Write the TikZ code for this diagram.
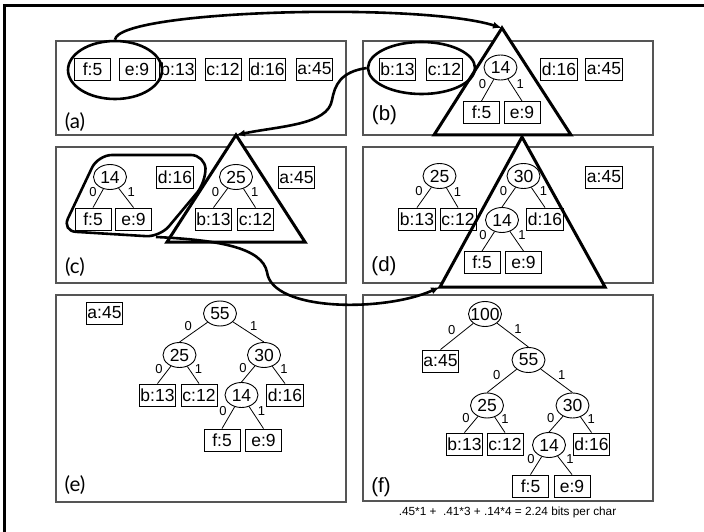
\documentclass[tikz,border=0pt]{standalone}
\usepackage{fontspec}
\setmainfont{Liberation Sans}
\newfontfamily\gillfont{Lato}
\usepackage{xcolor}
\definecolor{PanelCol}{RGB}{85,85,85}
\usepackage{tikz}
\usetikzlibrary{shapes}
\usetikzlibrary{arrows.meta}
\tikzstyle{Leaf}=[draw,line width=.9pt,minimum width=36,minimum height=22,
inner xsep=1.2,inner ysep=0,font=\fontsize{17.5}{19}\selectfont]
\tikzstyle{Sum}=[draw,ellipse,line width=.9pt,minimum width=33,minimum height=25,
inner xsep=-6,inner ysep=0,font=\fontsize{17.5}{19}\selectfont]
\tikzstyle{Edge}=[draw,line width=.8pt]
\tikzstyle{Bit}=[font=\fontsize{13}{14}\selectfont,inner sep=1.2pt,auto]
\tikzstyle{Panel}=[draw=PanelCol,line width=1.2pt]
\tikzstyle{Big}=[draw,fill=white,line width=3pt,line join=miter]
\tikzstyle{Group}=[draw,line width=2.6pt]
\tikzstyle{Jump}=[draw,line width=2.6pt,-{Latex[length=9pt,width=7pt]}]
\tikzstyle{Tag}=[font=\fontsize{20.5}{22}\selectfont,inner sep=0]
\tikzstyle{TagG}=[font=\gillfont\fontsize{20.5}{22}\selectfont,inner sep=0]

\begin{document}
\begin{tikzpicture}[x=1pt,y=-1pt]
        \useasboundingbox (0,0) rectangle (704,532);
        \draw[line width=3pt] (4,540) -- (4,6) -- (710,6);
        \draw[Panel] (56,41) rectangle (346,135);
        \draw[Panel] (363,41) rectangle (653,135);
        \draw[Panel] (56,147) rectangle (346,283);
        \draw[Panel] (363,147) rectangle (653,283);
        \draw[Panel] (56,295) rectangle (346,502);
        \draw[Panel] (363,295) rectangle (653,501);
        \coordinate (topB) at (502,28);
        \coordinate (leftB) at (434,135);
        \coordinate (rightB) at (571,135);
        \coordinate (topC) at (236,135);
        \coordinate (leftC) at (167,242);
        \coordinate (rightC) at (305,242);
        \coordinate (topD) at (522,137);
        \coordinate (leftD) at (440,287);
        \coordinate (rightD) at (605,287);
        \draw[Big] (topD) -- (leftD) -- (rightD) -- cycle;
        \draw[Big] (topB) -- (leftB) -- (rightB) -- cycle;
        \draw[Big] (topC) -- (leftC) -- (rightC) -- cycle;
        % (a)
        \node[Leaf](af)at(92.5,69){f:5};
        \node[Leaf](ae)at(137,69){e:9};
        \node[Leaf](ab)at(177.5,69){b:13};
        \node[Leaf](ac)at(223,69){c:12};
        \node[Leaf](ad)at(267.5,69){d:16};
        \node[Leaf](aa)at(314.5,69){a:45};
        \node[TagG](la)at(75,122){(a)};
        \node[Group,ellipse,minimum width=94,minimum height=58](pairA)at(115,70){};
        % (b)
        \node[Leaf](bb)at(397.5,69){b:13};
        \node[Leaf](bc)at(444.5,69){c:12};
        \node[Sum](b14)at(500.5,67.5){14};
        \node[Leaf](bf)at(481.5,112.5){f:5};
        \node[Leaf](be)at(522,112.5){e:9};
        \node[Leaf](bd)at(559,69){d:16};
        \node[Leaf](ba)at(604,69){a:45};
        \draw[Edge](b14)--node[Bit,swap]{0}(bf.north);
        \draw[Edge](b14)--node[Bit]{1}(be.north);
        \node[Tag](lb)at(384.5,115){(b)};
        \node[Group,ellipse,minimum width=107,minimum height=52](pairB)at(421.5,68){};
        % (c)
        \node[Sum](c14)at(110,177){14};
        \node[Leaf](cf)at(93,219){f:5};
        \node[Leaf](ce)at(133.5,219){e:9};
        \node[Leaf](cd)at(175,177){d:16};
        \node[Sum](c25)at(236,177){25};
        \node[Leaf](cb)at(213.5,219){b:13};
        \node[Leaf](cc)at(255.5,219){c:12};
        \node[Leaf](ca)at(296.5,177.5){a:45};
        \draw[Edge](c14)--node[Bit,swap]{0}(cf.north);
        \draw[Edge](c14)--node[Bit]{1}(ce.north);
        \draw[Edge](c25)--node[Bit,swap]{0}(cb.north);
        \draw[Edge](c25)--node[Bit]{1}(cc.north);
        \node[TagG](lc)at(75,267){(c)};
        \draw[Group,rounded corners=14](98,155)--(205,155)--(206,182)--(160,237)--(62,231)--cycle;
        \coordinate (foot) at (156,237);
        % (d)
        \node[Sum](d25)at(439.5,176){25};
        \node[Leaf](db)at(417,219){b:13};
        \node[Leaf](dc)at(458,219){c:12};
        \node[Sum](d30)at(523.5,176){30};
        \node[Sum](d14)at(502,220){14};
        \node[Leaf](dd)at(545,219){d:16};
        \node[Leaf](df)at(482,262.5){f:5};
        \node[Leaf](de)at(523.5,262.5){e:9};
        \node[Leaf](da)at(604,177){a:45};
        \draw[Edge](d25)--node[Bit,swap]{0}(db.north);
        \draw[Edge](d25)--node[Bit]{1}(dc.north);
        \draw[Edge](d30)--node[Bit,swap]{0}(d14.north);
        \draw[Edge](d30)--node[Bit]{1}(dd.north);
        \draw[Edge](d14)--node[Bit,swap]{0}(df.north);
        \draw[Edge](d14)--node[Bit]{1}(de.north);
        \node[Tag](ld)at(384,266){(d)};
        % (e)
        \node[Leaf](ea)at(104.5,313){a:45};
        \node[Sum](e55)at(220,313.5){55};
        \node[Sum](e25)at(179.5,355){25};
        \node[Sum](e30)at(264,355){30};
        \node[Leaf](eb)at(157.5,395){b:13};
        \node[Leaf](ec)at(199,395){c:12};
        \node[Sum](e14)at(241.5,395){14};
        \node[Leaf](ed)at(285,395){d:16};
        \node[Leaf](ef)at(222,440){f:5};
        \node[Leaf](ee)at(263.5,440){e:9};
        \draw[Edge](e55)--node[Bit,swap]{0}(e25.north);
        \draw[Edge](e55)--node[Bit]{1}(e30.north);
        \draw[Edge](e25)--node[Bit,swap]{0}(eb.north);
        \draw[Edge](e25)--node[Bit]{1}(ec.north);
        \draw[Edge](e30)--node[Bit,swap]{0}(e14.north);
        \draw[Edge](e30)--node[Bit]{1}(ed.north);
        \draw[Edge](e14)--node[Bit,swap]{0}(ef.north);
        \draw[Edge](e14)--node[Bit]{1}(ee.north);
        \node[TagG](le)at(75,485){(e)};
        % (f)
        \node[Sum](f100)at(485,314){100};
        \node[Leaf](fa)at(440.5,361){a:45};
        \node[Sum](f55)at(528.5,360){55};
        \node[Sum](f25)at(487,405.5){25};
        \node[Sum](f30)at(572.5,405.5){30};
        \node[Leaf](fb)at(464.5,444){b:13};
        \node[Leaf](fc)at(505,444){c:12};
        \node[Sum](f14)at(549,445){14};
        \node[Leaf](fd)at(591.5,444){d:16};
        \node[Leaf](ff)at(530.5,486){f:5};
        \node[Leaf](fe)at(572,486){e:9};
        \draw[Edge](f100)--node[Bit,swap]{0}(fa.north);
        \draw[Edge](f100)--node[Bit]{1}(f55.north);
        \draw[Edge](f55)--node[Bit,swap]{0}(f25.north);
        \draw[Edge](f55)--node[Bit]{1}(f30.north);
        \draw[Edge](f25)--node[Bit,swap]{0}(fb.north);
        \draw[Edge](f25)--node[Bit]{1}(fc.north);
        \draw[Edge](f30)--node[Bit,swap]{0}(f14.north);
        \draw[Edge](f30)--node[Bit]{1}(fd.north);
        \draw[Edge](f14)--node[Bit,swap]{0}(ff.north);
        \draw[Edge](f14)--node[Bit]{1}(fe.north);
        \node[Tag](lf)at(381,487){(f)};
        \node[font=\fontsize{11.8}{13}\selectfont](note)at(507.5,512){.45*1 +\ \ .41*3 + .14*4 = 2.24 bits per char};
        % merges
        \draw[Jump](pairA.north)..controls(118,10)and(420,2)..(topB);
        \draw[Jump](pairB.west)..controls(340,72)and(335,85)..(332,100)
            ..controls(328,125)and(280,126)..(topC);
        \draw[Jump](foot)..controls(220,240)and(262,248)..(267,272)
            ..controls(272,312)and(385,312)..(leftD);
    \end{tikzpicture}
\end{document}
